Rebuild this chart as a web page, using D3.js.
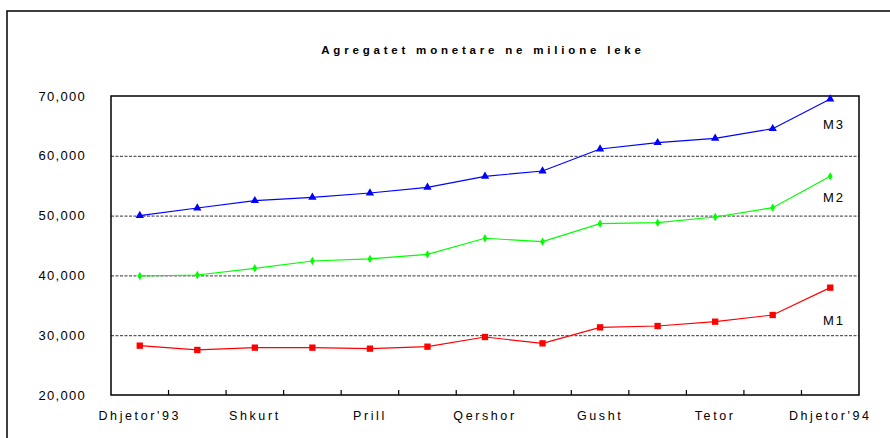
<!DOCTYPE html>
<html>
<head>
<meta charset="utf-8">
<script src="https://cdn.jsdelivr.net/npm/d3@7"></script>
<style>
  body { margin: 0; background: #fff; }
  svg { display: block; font-family: "Liberation Sans", Arial, sans-serif; }
</style>
</head>
<body>
<div id="chart"></div>
<script>
// muajt, dhjetor 93 -> dhjetor 94
const months = ["Dhjetor'93", "Janar", "Shkurt", "Mars", "Prill", "Maj", "Qershor",
  "Korrik", "Gusht", "Shtator", "Tetor", "Nentor", "Dhjetor'94"];
const shownMonths = ["Dhjetor'93", "Shkurt", "Prill", "Qershor", "Gusht", "Tetor", "Dhjetor'94"];
const m1 = [28250, 27530, 27920, 27920, 27750, 28080, 29700, 28640, 31310, 31540, 32260, 33380, 37950];
const m2 = [39900, 40070, 41190, 42410, 42750, 43530, 46210, 45640, 48650, 48820, 49770, 51320, 56570];
const m3 = [50000, 51270, 52490, 53060, 53780, 54730, 56570, 57460, 61140, 62190, 62930, 64530, 69500];
const yTicks = [20000, 30000, 40000, 50000, 60000, 70000];
const gridTicks = [30000, 40000, 50000, 60000];

const W = 890, H = 438;
const margin = { top: 96, right: 31, bottom: 43, left: 111 };

const svg = d3.select("#chart").append("svg")
    .attr("width", W)
    .attr("height", H);

// kuadri i jashtem
svg.append("rect")
    .attr("x", 7).attr("y", 11)
    .attr("width", W + 10).attr("height", H + 10)
    .attr("fill", "none")
    .attr("stroke", "#000")
    .attr("stroke-width", 1.5);

svg.append("text")
    .attr("x", 483).attr("y", 54)
    .attr("text-anchor", "middle")
    .attr("font-size", 11.5)
    .attr("font-weight", "bold")
    .attr("letter-spacing", 3.8)
    .text("Agregatet monetare ne milione leke");

const x = d3.scaleBand()
    .domain(months)
    .range([margin.left, W - margin.right])
    .padding(0);

const y = d3.scaleLinear()
    .domain([20000, 70000])
    .range([H - margin.bottom, margin.top]);

const cx = d => x(d) + x.bandwidth() / 2;

// vijat e rrjetit
svg.append("g")
    .attr("transform", `translate(${margin.left},0)`)
    .call(d3.axisLeft(y).tickValues(gridTicks).tickSize(-(W - margin.right - margin.left)).tickFormat(""))
    .call(g => g.select(".domain").remove())
    .selectAll("line")
    .attr("stroke", "#333")
    .attr("stroke-dasharray", "3,1.5");

svg.append("g")
    .attr("transform", `translate(${margin.left - 22},0)`)
    .call(d3.axisLeft(y).tickValues(yTicks).tickSize(0).tickFormat(d3.format(",")))
    .call(g => g.select(".domain").remove())
    .selectAll("text")
    .attr("font-size", 13)
    .attr("letter-spacing", 1.3)
    .attr("fill", "#000")
    .attr("font-family", "Liberation Sans, Arial, sans-serif");

// boshti x
svg.append("g")
    .attr("transform", `translate(0,${H - margin.bottom})`)
    .call(d3.axisBottom(x).tickValues(shownMonths).tickSize(0).tickPadding(16))
    .call(g => g.select(".domain").remove())
    .selectAll("text")
    .attr("font-size", 12.5)
    .attr("letter-spacing", 2.6)
    .attr("fill", "#000")
    .attr("font-family", "Liberation Sans, Arial, sans-serif");

svg.append("g")
    .selectAll("line")
    .data(months.slice(1))
    .join("line")
    .attr("x1", d => x(d)).attr("x2", d => x(d))
    .attr("y1", H - margin.bottom).attr("y2", H - margin.bottom - 5)
    .attr("stroke", "#000")
    .attr("stroke-width", 1.2);

// korniza e grafikut
svg.append("rect")
    .attr("x", margin.left).attr("y", margin.top)
    .attr("width", W - margin.right - margin.left)
    .attr("height", H - margin.bottom - margin.top)
    .attr("fill", "none")
    .attr("stroke", "#000")
    .attr("stroke-width", 1.5);

const series = [
  { name: "M3", values: m3, color: "#0000ff", symbol: d3.symbolTriangle, size: 30, labelY: 129 },
  { name: "M2", values: m2, color: "#00ff00", symbol: d3.symbolDiamond, size: 20, labelY: 202 },
  { name: "M1", values: m1, color: "#ff0000", symbol: d3.symbolSquare, size: 40, labelY: 325 }
];

const line = d3.line()
    .x((d, i) => cx(months[i]))
    .y(d => y(d));

series.forEach(s => {
  svg.append("path")
      .datum(s.values)
      .attr("fill", "none")
      .attr("stroke", s.color)
      .attr("stroke-width", 1.2)
      .attr("d", line);

  svg.append("g")
      .selectAll("path")
      .data(s.values)
      .join("path")
      .attr("transform", (d, i) => `translate(${cx(months[i])},${y(d)})`)
      .attr("d", d3.symbol().type(s.symbol).size(s.size))
      .attr("fill", s.color);

  svg.append("text")
      .attr("x", 834).attr("y", s.labelY)
      .attr("text-anchor", "middle")
      .attr("font-size", 13)
      .attr("letter-spacing", 2)
      .text(s.name);
});
</script>
</body>
</html>
